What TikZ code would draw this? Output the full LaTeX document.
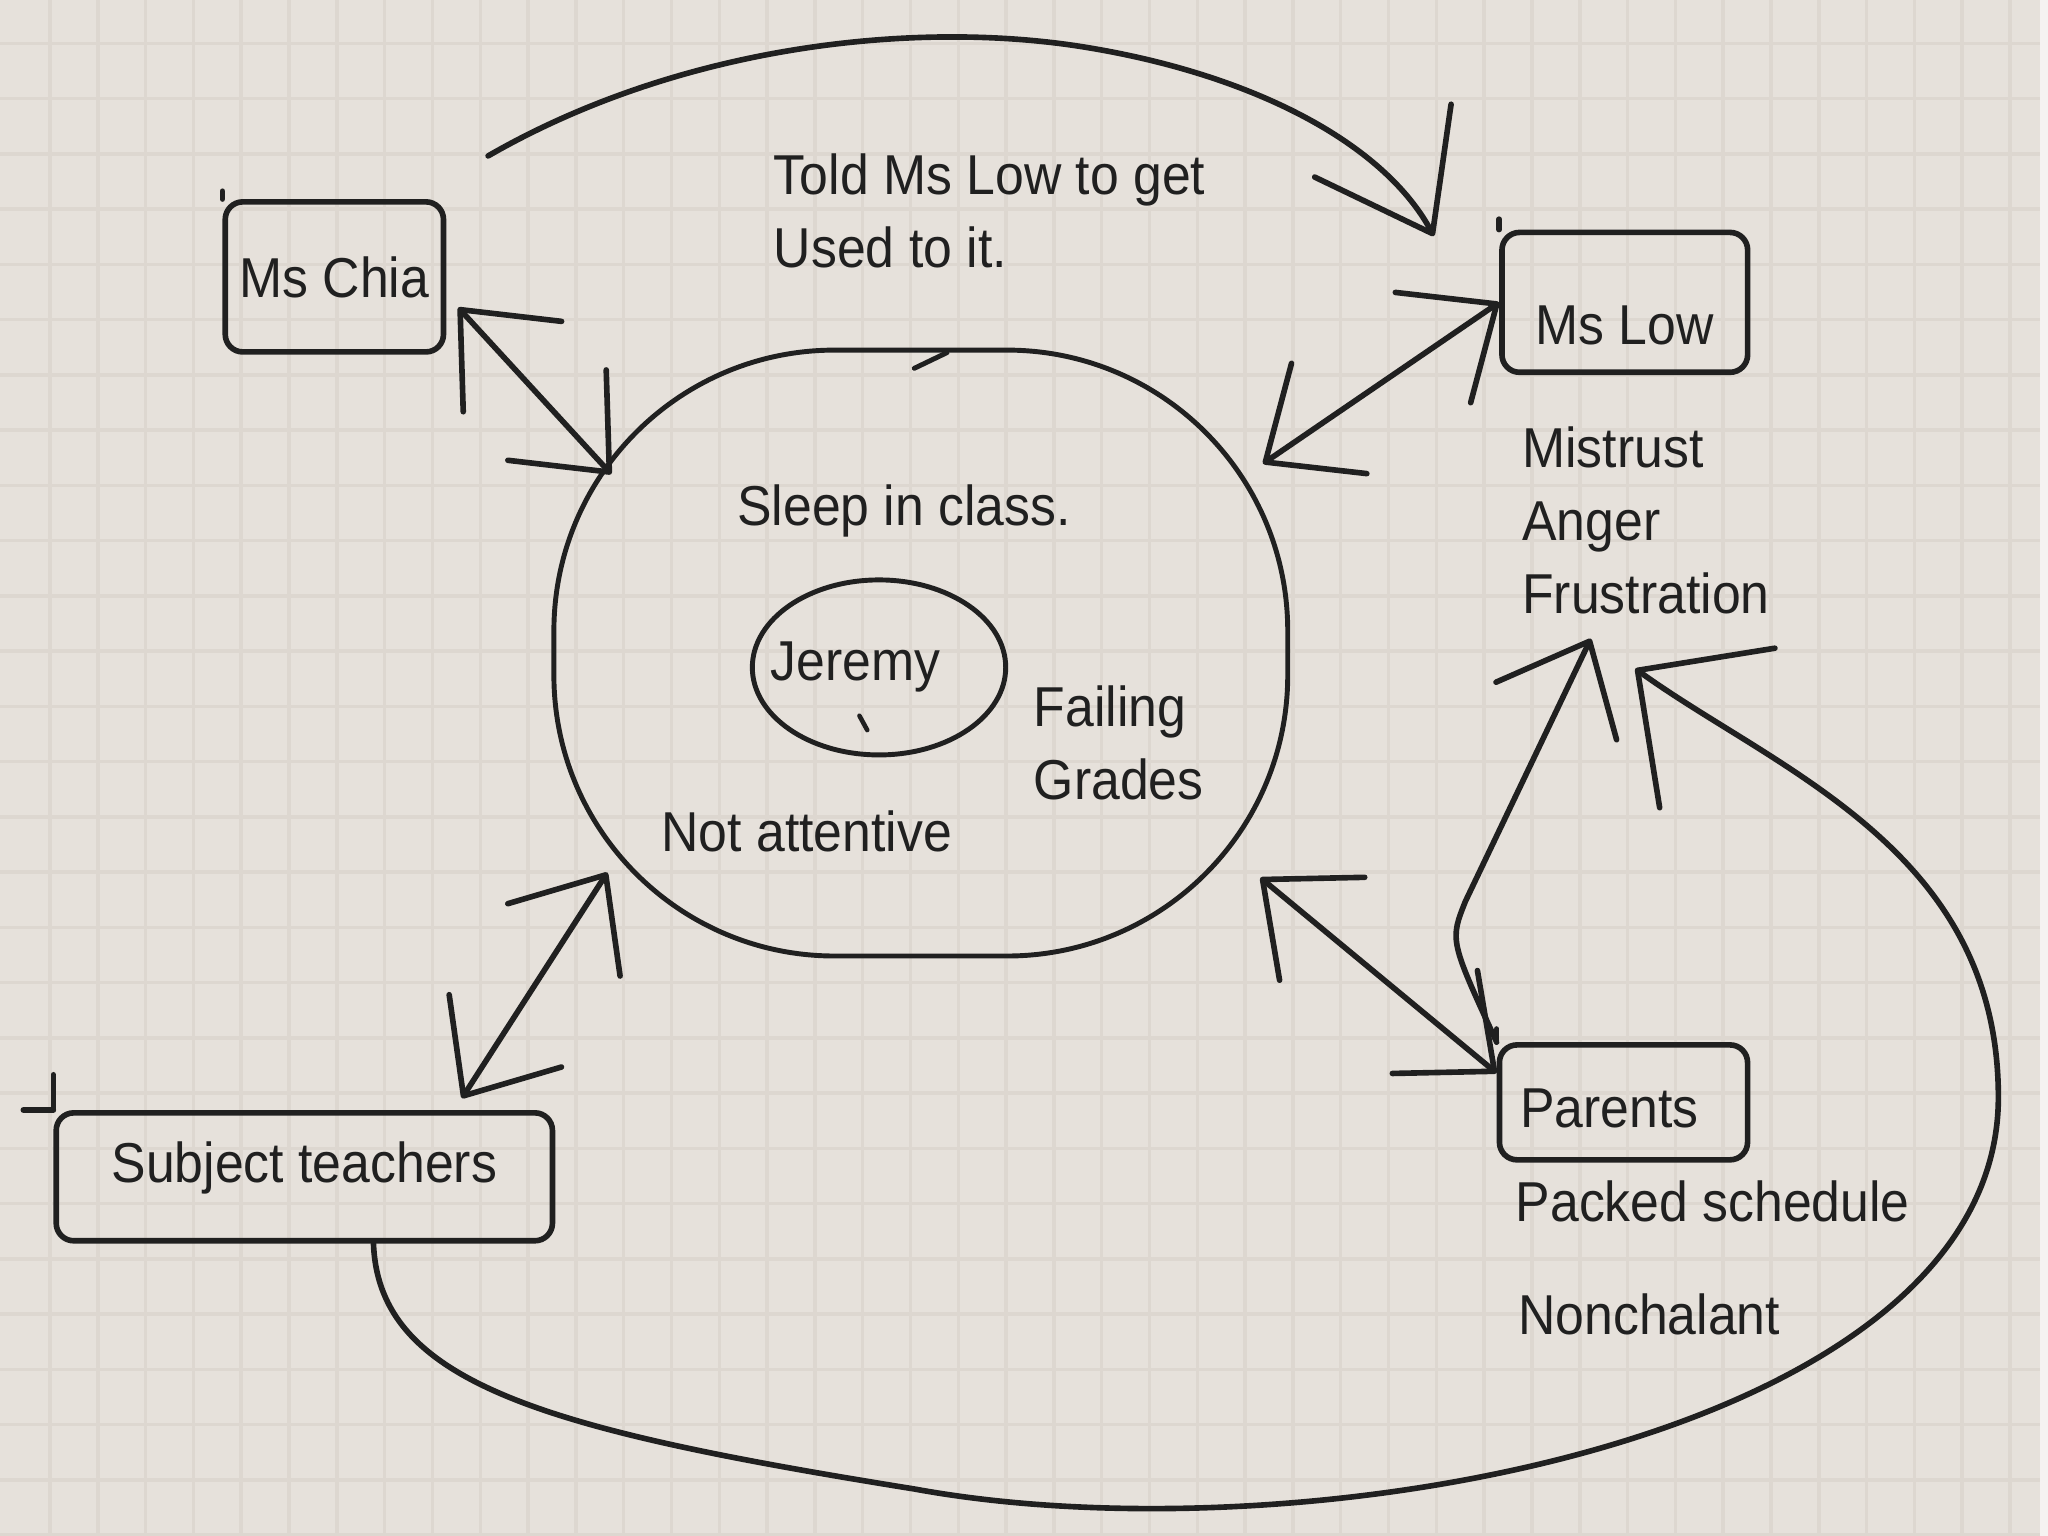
\documentclass[tikz,border=0pt]{standalone}
\usepackage{fontspec}
\setmainfont{Liberation Sans}[FakeStretch=0.92]
\usetikzlibrary{arrows.meta}
\definecolor{paper}{RGB}{230,225,219}
\definecolor{gridc}{RGB}{221,215,208}
\definecolor{ink}{RGB}{32,32,32}
\begin{document}
\begin{tikzpicture}[x=0.013061cm,y=-0.013061cm,
    every node/.style={font=\fontsize{16pt}{20.8pt}\selectfont, text=ink, inner sep=0pt},
    pen/.style={draw=ink, line width=1.6pt, line cap=round, line join=round},
    box/.style={pen, rounded corners=5pt},
    note/.style={anchor=base west, align=left},
    >={Straight Barb[length=22pt,width=38pt,round]}]
  \useasboundingbox (0,0) rectangle (1568,1176);
  \fill[paper] (0,0) rectangle (1568,1176);
  \foreach \k in {0,...,42}
    \draw[gridc, line width=1pt] ({38.3+36.6*\k},0) -- ({38.3+36.6*\k},1176);
  \foreach \k in {0,...,27}
    \draw[gridc, line width=1pt] (0,{33.2+42.3*\k}) -- (1568,{33.2+42.3*\k});
  \fill[white!60!paper] (1562,0) rectangle (1568,1176);

  \node[box, minimum width=62.1pt, text height=27.1pt, text depth=15.6pt] (mschia) at (256,212) {Ms Chia};
  \node[box, minimum width=69.9pt, text height=32pt, text depth=7.8pt] (mslow) at (1244,231.5) {Ms Low};
  \node[box, minimum width=141.2pt, text height=19.7pt, text depth=16.7pt] (st) at (233,901) {Subject teachers};
  \node[box, minimum width=70.6pt, text height=23.4pt, text depth=9.3pt] (parents) at (1243,844) {Parents\kern8pt};
  \node[pen, line width=1.4pt, rounded corners=79.9pt, minimum width=208.8pt, minimum height=172.4pt] (circ) at (705,500) {};

  \node[anchor=base] (jeremy) at (655,521) {Jeremy};
  \draw[pen, line width=1.4pt] ([shift={(18,-10)}]jeremy.base) ellipse [x radius=97, y radius=67];
  \draw[pen, line width=1.3pt] ([shift={(3,27)}]jeremy.base) -- ++(6,11);

  \node[note] (told) at (592,205) {Told Ms Low to get\\Used to it.};
  \node[note] (sleep) at (564,402) {Sleep in class.};
  \node[note] (failing) at (791,612) {Failing\\Grades};
  \node[note] (notatt) at (506,652) {Not attentive};
  \node[note] (feel) at (1165,470) {Mistrust\\Anger\\Frustration};
  \node[note] (packed) at (1160,935) {Packed schedule};
  \node[note] (nonchal) at (1162,1022) {Nonchalant};

  \coordinate (circ-nw) at ([shift={(-237,-137)}]circ.center);
  \coordinate (circ-ne) at ([shift={(262,-145)}]circ.center);
  \coordinate (circ-sw) at ([shift={(-240,168)}]circ.center);
  \coordinate (circ-se) at ([shift={(260,172)}]circ.center);
  \coordinate (feel-in) at ([shift={(53,18)}]feel.south west);
  \coordinate (feel-loop) at ([shift={(87,41)}]feel.south west);

  \draw[pen] (mschia.north west) -- ++(0,-6);
  \draw[pen] (mslow.north west) -- ++(0,-8);
  \draw[pen] (st.north west) -- ++(-23,0) (st.north west) -- ++(0,-27);
  \draw[pen] (parents.north west) -- ++(0,-10);
  \draw[pen, line width=1.4pt] ([shift={(-5,-218)}]circ.center) -- ++(25,-12);

  \draw[pen, <->, shorten <=5pt] (mschia.-9) -- (circ-nw);
  \draw[pen, <->] (circ-ne) -- (mslow.west);
  \draw[pen, <->, shorten <=4pt] (st.24) -- (circ-sw);
  \draw[pen, <->] (circ-se) -- (parents.167);
  \draw[pen, ->] (parents.north west) .. controls (1110,720) .. (1122,690) -- (feel-in);
  \draw[pen, -{Straight Barb[length=30pt,width=44pt,round]}] ([shift={(32,-33)}]mschia.north east)
    .. controls (520,35) and (700,15) .. (830,36)
    .. controls (960,57) and (1060,110) .. ([shift={(-50,5)}]mslow.north west);
  \draw[pen, -{Straight Barb[length=28pt,width=56pt,round]}] (st.-44)
    .. controls (290,1060) and (420,1095) .. (700,1140)
    .. controls (1000,1195) and (1530,1100) .. (1530,840)
    .. controls (1530,650) and (1360,590) .. (feel-loop);
\end{tikzpicture}
\end{document}
